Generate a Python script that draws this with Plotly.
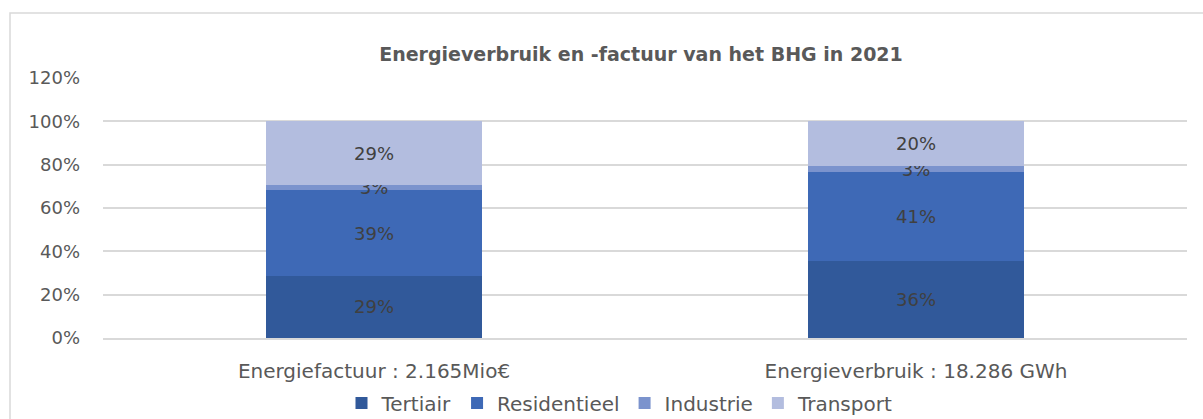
import plotly.graph_objects as go

categories = ["Energiefactuur : 2.165Mio€", "Energieverbruik : 18.286 GWh"]
series_names = ["Tertiair", "Residentieel", "Industrie", "Transport"]
tertiair = [0.287, 0.355]
residentieel = [0.394, 0.410]
industrie = [0.026, 0.030]
transport = [0.293, 0.205]
series_values = [tertiair, residentieel, industrie, transport]
colors = ["#31599A", "#3E69B6", "#7B93CD", "#B3BDDF"]
y_ticks = [0, 0.2, 0.4, 0.6, 0.8, 1.0, 1.2]
title = "Energieverbruik en -factuur van het BHG in 2021"

FONT = "DejaVu Sans"
GREY = "#595959"

fig = go.Figure()
for name, vals, col in zip(series_names, series_values, colors):
    fig.add_trace(go.Bar(
        x=categories, y=vals, name=name,
        marker=dict(color=col, line=dict(width=0)),
        text=[f"{round(v*100):d}%" for v in vals],
        textposition="inside", insidetextanchor="middle",
        constraintext="none",
        textfont=dict(family=FONT, size=18, color="#404040"),
        hoverinfo="skip",
    ))

W, H = 1203, 419
L, R, T, B = 103, 16, 78, 81
pw, ph = W - L - R, H - T - B

fig.update_layout(
    width=W, height=H,
    barmode="stack", bargap=0.6,
    margin=dict(l=L, r=R, t=T, b=B, autoexpand=False),
    paper_bgcolor="white", plot_bgcolor="white",
    font=dict(family=FONT, size=18, color=GREY),
    title=dict(text="<b>" + title + "</b>",
               xref="container", x=641 / W, xanchor="center",
               yref="container", y=1 - 54 / H, yanchor="middle",
               font=dict(family=FONT, size=19, color=GREY)),
    yaxis=dict(range=[0, 1.2], tickvals=y_ticks, tickformat=".0%",
               showgrid=True, gridcolor="#D9D9D9", gridwidth=1.5,
               zeroline=False, showline=False, ticks="", automargin=False,
               ticklabelstandoff=22,
               tickfont=dict(family=FONT, size=18, color=GREY)),
    xaxis=dict(showline=True, linecolor="#D9D9D9", linewidth=1.5, ticks="",
               automargin=False, ticklabelstandoff=14,
               tickfont=dict(family=FONT, size=20, color=GREY)),
    legend=dict(orientation="h",
                xref="container", x=620 / W, xanchor="center",
                yref="container", y=1 - 403 / H, yanchor="middle",
                font=dict(family=FONT, size=20, color=GREY),
                traceorder="normal", itemwidth=30, bgcolor="rgba(0,0,0,0)"),
    showlegend=True,
    shapes=[dict(type="rect", xref="paper", yref="paper",
                 x0=(10 - L) / pw, x1=(1215 - L) / pw,
                 y0=(H - B - 440) / ph, y1=(H - B - 13) / ph,
                 line=dict(color="#D9D9D9", width=1.5), fillcolor="rgba(0,0,0,0)",
                 layer="below")],
)

fig.write_html(
    "out.html",
    config={"displayModeBar": False},
    post_script="document.body.style.margin='0px';document.body.style.overflow='hidden';",
)
